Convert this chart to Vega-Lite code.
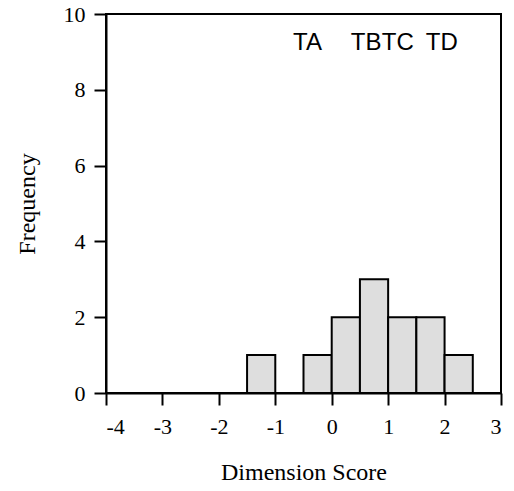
{
  "$schema": "https://vega.github.io/schema/vega-lite/v6.json",
  "autosize": "none",
  "padding": {"left": 106, "top": 14, "right": 13, "bottom": 98},
  "width": 395,
  "height": 379,
  "config": {
    "view": {"stroke": "black", "strokeWidth": 2},
    "axis": {
      "grid": false,
      "domainColor": "black",
      "domainWidth": 2,
      "tickColor": "black",
      "tickWidth": 2,
      "tickSize": 12,
      "labelFont": "Liberation Serif",
      "labelFontSize": 22,
      "labelColor": "black",
      "labelExpr": "'' + datum.value",
      "titleFont": "Liberation Serif",
      "titleFontSize": 24,
      "titleFontWeight": "normal",
      "titleColor": "black"
    }
  },
  "layer": [
    {
      "data": {"values": [
        {"bin_start": -1.5, "bin_end": -1.0, "count": 1},
        {"bin_start": -0.5, "bin_end": 0.0, "count": 1},
        {"bin_start": 0.0, "bin_end": 0.5, "count": 2},
        {"bin_start": 0.5, "bin_end": 1.0, "count": 3},
        {"bin_start": 1.0, "bin_end": 1.5, "count": 2},
        {"bin_start": 1.5, "bin_end": 2.0, "count": 2},
        {"bin_start": 2.0, "bin_end": 2.5, "count": 1}
      ]},
      "mark": {"type": "rect", "fill": "#dedede", "stroke": "black", "strokeWidth": 2},
      "encoding": {
        "x": {"field": "bin_start", "type": "quantitative",
              "scale": {"domain": [-4, 3], "nice": false, "zero": false},
              "axis": {"values": [-4, -3, -2, -1, 0, 1, 2, 3], "title": "Dimension Score", "labelPadding": 11, "titlePadding": 23}},
        "x2": {"field": "bin_end"},
        "y": {"field": "count", "type": "quantitative",
              "scale": {"domain": [0, 10], "nice": false},
              "axis": {"values": [0, 2, 4, 6, 8, 10], "title": "Frequency", "labelPadding": 9, "titlePadding": 24}},
        "y2": {"datum": 0}
      }
    },
    {
      "data": {"values": [
        {"label": "TA", "pos": -0.43, "height": 9.04},
        {"label": "TB", "pos": 0.61, "height": 9.04},
        {"label": "TC", "pos": 1.17, "height": 9.04},
        {"label": "TD", "pos": 1.95, "height": 9.04}
      ]},
      "mark": {"type": "text", "font": "Liberation Sans", "fontSize": 24, "fontWeight": "normal", "color": "black", "align": "center", "baseline": "alphabetic"},
      "encoding": {
        "x": {"field": "pos", "type": "quantitative"},
        "y": {"field": "height", "type": "quantitative"},
        "text": {"field": "label"}
      }
    }
  ]
}
